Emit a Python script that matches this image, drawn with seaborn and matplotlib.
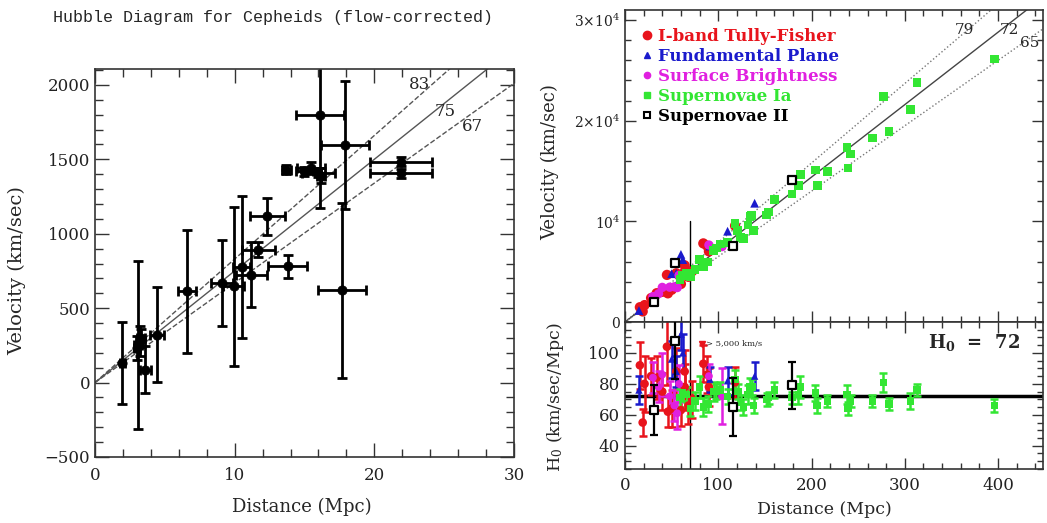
import numpy as np
import matplotlib
matplotlib.use("Agg")
import matplotlib.pyplot as plt
import seaborn as sns
from matplotlib.ticker import MultipleLocator, FixedLocator, FixedFormatter
from matplotlib.lines import Line2D

sns.set_style("ticks")
plt.rcParams['font.family'] = ['DejaVu Serif']
plt.rcParams['mathtext.fontset'] = 'dejavuserif'

# ---------------- Left panel: Cepheid Hubble diagram ----------------
ceph_d = [1.96, 3.0, 3.1, 3.25, 3.3, 3.6, 4.45, 6.6, 9.1, 9.95, 10.5, 11.2, 11.7,
          12.35, 13.7, 13.8, 15.0, 15.5, 16.0, 16.1, 16.2, 17.7, 17.9, 21.9, 21.9]
ceph_v = [132, 230, 255, 277, 300, 87, 322, 613, 669, 646, 776, 725, 893,
          1116, 1430, 780, 1420, 1440, 1410, 1800, 1390, 619, 1597, 1485, 1407]
ceph_derr = [0.2, 0.2, 0.3, 0.3, 0.3, 0.4, 0.5, 0.65, 0.8, 0.75, 0.6, 1.1, 1.2,
             1.25, 0.3, 1.4, 0.6, 1.0, 1.2, 1.7, 0.3, 1.7, 1.7, 2.2, 2.2]
ceph_verr = [275, 80, 565, 100, 60, 160, 320, 415, 290, 535, 475, 220, 50,
             125, 30, 75, 30, 40, 30, 630, 50, 590, 430, 30, 30]
left_H = [83, 75, 67]
left_styles = ['--', '-', '--']

# ---------------- Right panels ----------------
tf_d = [16, 19, 21, 28, 34, 40, 45, 46, 50, 55, 60, 64, 64, 68, 72, 84, 88, 90, 118]
tf_v = [1470, 1050, 1680, 2380, 2860, 3000, 4680, 2850, 3200, 4840, 3780, 4990,
        5630, 4490, 5040, 7810, 7570, 7020, 9560]
tf_h = [92, 55, 80, 85, 84, 75, 104, 62, 64, 88, 63, 78, 88, 66, 70, 93, 86, 78, 81]
tf_herr = [15, 9, 18, 12, 14, 12, 25, 10, 12, 15, 10, 15, 14, 12, 12, 12, 12, 12, 10]

fp_d = [15, 50, 55, 60, 62, 91, 110, 139]
fp_v = [1140, 4800, 4840, 6720, 6200, 7550, 9020, 11800]
fp_h = [76, 96, 88, 112, 100, 83, 82, 85]
fp_herr = [9, 12, 10, 10, 12, 8, 9, 9]

sbf_d = [30, 36, 40, 48, 53, 56, 58, 90, 104]
sbf_v = [2520, 2810, 3440, 3460, 3500, 3420, 4640, 7650, 7490]
sbf_h = [84, 78, 86, 72, 66, 61, 80, 85, 72]
sbf_herr = [10, 10, 14, 10, 10, 10, 12, 8, 18]

sn1a_d = [59, 62, 66, 70, 75, 80, 84, 89, 95, 98, 102, 110, 118, 121, 124, 127, 132,
          134, 136, 138, 152, 154, 160, 179, 186, 188, 204, 206, 217, 238, 239, 242,
          265, 277, 283, 306, 313, 396]
sn1a_v = [4190, 4590, 4820, 4480, 5180, 6240, 5460, 5960, 7130, 7350, 7750, 7920,
          9790, 9080, 8430, 8260, 9640, 10450, 10610, 9110, 10640, 10930, 12160,
          12710, 13580, 14660, 15100, 13600, 14970, 17370, 15300, 16700, 18290,
          22440, 18960, 21110, 23790, 26140]
sn1a_h = [71, 74, 73, 64, 69, 78, 65, 67, 75, 75, 76, 72, 83, 75, 68, 65, 73, 78, 78,
          66, 70, 71, 76, 71, 73, 78, 74, 66, 69, 73, 64, 69, 69, 81, 67, 69, 76, 66]
sn1a_herr = [6, 5, 5, 5, 6, 7, 6, 5, 6, 5, 5, 5, 6, 5, 5, 5, 6, 6, 5, 5, 4, 4, 5, 4,
             6, 7, 5, 5, 4, 6, 4, 4, 4, 6, 4, 5, 4, 4]

sn2_d = [31, 54, 116, 179]
sn2_v = [1950, 5830, 7540, 14140]
sn2_h = [63, 108, 65, 79]
sn2_herr = [16, 25, 19, 15]

right_H = [79, 72, 65]
right_styles = [':', '-', ':']
H0 = 72
cut_d = 70

labels = ['I-band Tully-Fisher', 'Fundamental Plane', 'Surface Brightness',
          'Supernovae Ia', 'Supernovae II']
RED, BLUE, MAG, GREEN, BLACK = '#e8141c', '#1a1acc', '#e020e0', '#33e633', '#000000'

FRAME = '#333333'

fig = plt.figure(figsize=(10.47, 5.23), dpi=100)
axL = fig.add_axes([0.0907, 0.1262, 0.4002, 0.7419])
axT = fig.add_axes([0.5969, 0.3843, 0.3992, 0.5966])
axB = fig.add_axes([0.5969, 0.1033, 0.3992, 0.2811])


def style_axes(ax, major_len=9, minor_len=5):
    for s in ax.spines.values():
        s.set_color(FRAME)
        s.set_linewidth(1.2)
    ax.tick_params(which='both', direction='in', top=True, right=True,
                   color=FRAME, width=1.0, labelsize=12, labelcolor='#222222')
    ax.tick_params(which='major', length=major_len)
    ax.tick_params(which='minor', length=minor_len)


# ---- Left panel ----
dl = np.array([0.0, 30.0])
for H, ls in zip(left_H, left_styles):
    sns.lineplot(x=dl, y=H * dl, ax=axL, color='#555555', lw=1.0, linestyle=ls, zorder=1)
axL.errorbar(ceph_d, ceph_v, xerr=ceph_derr, yerr=ceph_verr, fmt='none',
             ecolor='black', elinewidth=2.0, capsize=3.5, capthick=2.0, zorder=2)
sns.scatterplot(x=ceph_d, y=ceph_v, ax=axL, color='black', marker='o', s=45,
                edgecolor='black', zorder=3)
axL.text(22.5, 1975, '83', fontsize=12)
axL.text(24.3, 1790, '75', fontsize=12)
axL.text(26.3, 1690, '67', fontsize=12)
axL.set_xlim(0, 30)
axL.set_ylim(-500, 2107)
axL.xaxis.set_major_locator(MultipleLocator(10))
axL.xaxis.set_minor_locator(MultipleLocator(2))
axL.yaxis.set_major_locator(MultipleLocator(500))
axL.yaxis.set_minor_locator(MultipleLocator(100))
style_axes(axL, 10, 6)
axL.tick_params(axis='x', pad=7)
axL.set_xlabel('Distance (Mpc)', fontsize=13)
axL.set_ylabel('Velocity (km/sec)', fontsize=14)
axL.xaxis.set_label_coords(0.494, -0.105)
axL.yaxis.set_label_coords(-0.165, 0.48)
fig.text(0.261, 0.966, 'Hubble Diagram for Cepheids (flow-corrected)',
         ha='center', va='center', fontsize=12, family='Liberation Mono')

# ---- Right top panel ----
dr = np.array([0.0, 460.0])
for H, ls in zip(right_H, right_styles):
    sns.lineplot(x=dr, y=H * dr, ax=axT, color='#444444' if ls == '-' else '#777777',
                 lw=1.0, linestyle=ls, zorder=1)
axT.plot([cut_d, cut_d], [0, 10000], color='black', lw=1.0, zorder=1)

groups = [
    (tf_d, tf_v, tf_h, tf_herr, RED, 'o', 55),
    (fp_d, fp_v, fp_h, fp_herr, BLUE, '^', 40),
    (sbf_d, sbf_v, sbf_h, sbf_herr, MAG, 'o', 45),
    (sn1a_d, sn1a_v, sn1a_h, sn1a_herr, GREEN, 's', 40),
]
for d, v, h, he, c, m, s in groups:
    sns.scatterplot(x=d, y=v, ax=axT, color=c, marker=m, s=s, edgecolor='none', zorder=3)
sns.scatterplot(x=sn2_d, y=sn2_v, ax=axT, color='white', marker='s', s=38,
                edgecolor='black', linewidth=1.6, zorder=4)

axT.text(353, 28600, '79', fontsize=11)
axT.text(402, 28600, '72', fontsize=11)
axT.text(423, 27300, '65', fontsize=11)

axT.set_xlim(0, 448)
axT.set_ylim(0, 31000)
axT.xaxis.set_major_locator(MultipleLocator(100))
axT.xaxis.set_minor_locator(MultipleLocator(20))
axT.yaxis.set_major_locator(FixedLocator([0, 10000, 20000, 30000]))
axT.yaxis.set_major_formatter(FixedFormatter(['0', r'$10^4$', r'$2{\times}10^4$', r'$3{\times}10^4$']))
axT.yaxis.set_minor_locator(MultipleLocator(2000))
style_axes(axT, 8, 4)
axT.tick_params(axis='x', labelbottom=False)
axT.tick_params(axis='y', labelsize=10)
axT.set_xlabel('')
axT.set_ylabel('Velocity (km/sec)', fontsize=13)
axT.yaxis.set_label_coords(-0.158, 0.513)

handles = [
    Line2D([], [], marker='o', color=RED, ls='none', markersize=6),
    Line2D([], [], marker='^', color=BLUE, ls='none', markersize=5),
    Line2D([], [], marker='o', color=MAG, ls='none', markersize=4.5),
    Line2D([], [], marker='s', color=GREEN, ls='none', markersize=5),
    Line2D([], [], marker='s', mfc='white', mec='black', mew=1.5, ls='none', markersize=5),
]
leg = axT.legend(handles, labels, loc='upper left', bbox_to_anchor=(0.0, 0.985),
                 frameon=False, handletextpad=0.2, labelspacing=0.18, borderpad=0.3,
                 handlelength=1.0, prop={'weight': 'bold', 'size': 12})
for t, c in zip(leg.get_texts(), [RED, BLUE, MAG, GREEN, BLACK]):
    t.set_color(c)

# ---- Right bottom panel ----
axB.axhline(H0, color='black', lw=2.5, zorder=1)
axB.axvline(cut_d, color='black', lw=1.0, zorder=1)
for d, v, h, he, c, m, s in groups:
    axB.errorbar(d, h, yerr=he, fmt='none', ecolor=c, elinewidth=1.8, capsize=3,
                 capthick=1.8, zorder=2)
    sns.scatterplot(x=d, y=h, ax=axB, color=c, marker=m, s=s * 0.7, edgecolor='none', zorder=3)
axB.errorbar(sn2_d, sn2_h, yerr=sn2_herr, fmt='none', ecolor='black', elinewidth=1.6,
             capsize=3, capthick=1.6, zorder=4)
sns.scatterplot(x=sn2_d, y=sn2_h, ax=axB, color='white', marker='s', s=34,
                edgecolor='black', linewidth=1.6, zorder=5)

axB.text(325, 103, r'H$_\mathbf{0}$  =  72', fontsize=13, fontweight='bold')
axB.plot([83], [106], marker='v', color=RED, markersize=4, ls='none')
axB.text(87, 106, '> 5,000 km/s', fontsize=6, va='center')

axB.set_xlim(0, 448)
axB.set_ylim(25, 120)
axB.xaxis.set_major_locator(MultipleLocator(100))
axB.xaxis.set_minor_locator(MultipleLocator(20))
axB.yaxis.set_major_locator(FixedLocator([40, 60, 80, 100]))
axB.yaxis.set_minor_locator(MultipleLocator(5))
style_axes(axB, 8, 4)
axB.tick_params(axis='x', pad=6)
axB.set_xlabel('Distance (Mpc)', fontsize=12.5)
axB.set_ylabel(r'H$_0$ (km/sec/Mpc)', fontsize=12.5)
axB.xaxis.set_label_coords(0.478, -0.215)
axB.yaxis.set_label_coords(-0.14, 0.49)

fig.savefig('out.png', dpi=100)
